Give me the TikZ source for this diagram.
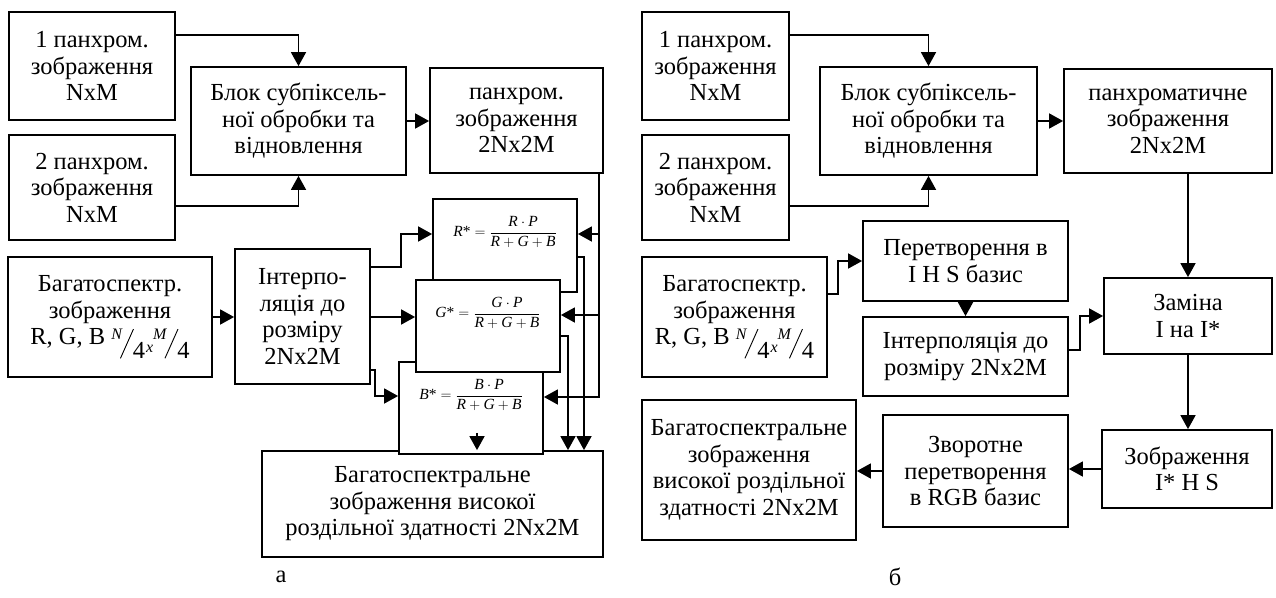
\documentclass[tikz,border=0pt]{standalone}
\usepackage{fontspec}
\setmainfont{Liberation Serif}
\usepackage{graphicx}
\usetikzlibrary{arrows.meta,calc}
\newcommand\slfr[2]{%
 \raisebox{5pt}{\fontsize{16}{16}\selectfont\itshape #1}%
 \kern-2pt\raisebox{-14pt}{\rotatebox{66}{\rule{32pt}{0.9pt}}}%
 \kern-1pt\raisebox{-14pt}{#2}}
\newcommand\smx{\kern1pt\raisebox{-8pt}{\fontsize{16}{16}\selectfont\itshape x}}
\tikzset{
 box/.style={draw, fill=white, line width=1.8pt, align=center, inner sep=0pt,
   font=\fontsize{24.5}{26.5}\selectfont},
 fml/.style={anchor=center, yshift=-34pt, inner sep=0pt, font=\fontsize{15.5}{18}\selectfont},
 arr/.style={line width=1.7pt, -{Triangle[length=14pt,width=15pt]}},
 captxt/.style={font=\fontsize{24.5}{26.5}\selectfont, inner sep=0pt},
}
\begin{document}
\begin{tikzpicture}[x=1pt,y=-1pt]
\useasboundingbox[fill=white] (0,0) rectangle (1276,597);

% ---------------- left diagram ----------------
\node[box, minimum width=166pt, minimum height=108pt] (L1) at (92,66) {1 панхром.\\зображення\\NxM};
\node[box, minimum width=166pt, minimum height=105pt] (L2) at (92,187.5) {2 панхром.\\зображення\\NxM};
\node[box, minimum width=215pt, minimum height=108pt] (LB) at (298.5,121) {Блок субпіксель-\\ної обробки та\\відновлення};
\node[box, minimum width=173pt, minimum height=105pt] (LP) at (516.5,120.5) {панхром.\\зображення\\2Nx2M};
\node[box, minimum width=204pt, minimum height=120pt] (LM) at (110,317) {Багатоспектр.\\зображення\\R, G, B~\slfr{N}{4}\smx\slfr{M}{4}};
\node[box, minimum width=135pt, minimum height=135pt] (LI) at (302.5,316.5) {Інтерпо-\\ляція до\\розміру\\2Nx2M};
\node[box, minimum width=341pt, minimum height=106pt] (LO) at (432.5,504) {Багатоспектральне\\зображення високої\\роздільної здатності 2Nx2M};
\node[box, minimum width=144pt, minimum height=92pt,
  label={[fml]north:$\mathit{B}\hbox{*}=\displaystyle\frac{\mathit{B}\cdot\mathit{P}}{\mathit{R}+\mathit{G}+\mathit{B}}$}] (LBs) at (471,408) {};
\node[box, minimum width=144pt, minimum height=93pt,
  label={[fml]north:$\mathit{R}\hbox{*}=\displaystyle\frac{\mathit{R}\cdot\mathit{P}}{\mathit{R}+\mathit{G}+\mathit{B}}$}] (LR) at (505,245.5) {};
\node[box, minimum width=144pt, minimum height=92pt,
  label={[fml]north:$\mathit{G}\hbox{*}=\displaystyle\frac{\mathit{G}\cdot\mathit{P}}{\mathit{R}+\mathit{G}+\mathit{B}}$}] (LG) at (488,326) {};

\draw[arr] (L1.east |- 0,35) -| (LB.north);
\draw[arr] (L2.east |- 0,206) -| (LB.south);
\draw[arr] (LB.east) -- (LB.east -| LP.west);
\draw[arr] (LM.east) -- (LM.east -| LI.west);
\draw[arr] (LI.east |- 0,267) -- (401,267) -- (401,234) -- (LR.west |- 0,234);
\draw[arr] (LI.east |- 0,317) -- (LG.west |- 0,317);
\draw[arr] (LI.east |- 0,370) -- (375,370) -- (375,396) -- (LBs.west |- 0,396);
\draw[arr] (LP.south -| 599,0) -- (599,397) -- (LBs.east |- 0,397);
\draw[arr] (599,234) -- (LR.east |- 0,234);
\draw[arr] (599,315) -- (LG.east |- 0,315);
\draw[arr] (LR.east |- 0,257) -- (584,257) -- (584,0 |- LO.north);
\draw[arr] (LG.east |- 0,336) -- (568,336) -- (568,0 |- LO.north);
\draw[arr] ([xshift=6pt,yshift=22pt]LBs.south) -- ([xshift=6pt]LBs.south |- LO.north);

\node[captxt] (la) at (281,577) {а};

% ---------------- right diagram ----------------
\node[box, minimum width=147pt, minimum height=108pt] (R1) at (715.5,66) {1 панхром.\\зображення\\NxM};
\node[box, minimum width=147pt, minimum height=105pt] (R2) at (715.5,187.5) {2 панхром.\\зображення\\NxM};
\node[box, minimum width=217pt, minimum height=108pt] (RB) at (928.5,121) {Блок субпіксель-\\ної обробки та\\відновлення};
\node[box, minimum width=208pt, minimum height=104pt] (RP) at (1168,121) {панхроматичне\\зображення\\2Nx2M};
\node[box, minimum width=185pt, minimum height=120pt] (RM) at (734.5,317) {Багатоспектр.\\зображення\\R, G, B~\slfr{N}{4}\smx\slfr{M}{4}};
\node[box, minimum width=205pt, minimum height=80pt] (RT) at (965.5,261) {Перетворення в\\I H S базис};
\node[box, minimum width=205pt, minimum height=79pt] (RI) at (965.5,356.5) {Інтерполяція до\\розміру 2Nx2M};
\node[box, minimum width=168pt, minimum height=76pt] (RZ) at (1188,316) {Заміна\\I на I*};
\node[box, minimum width=170pt, minimum height=78pt] (RS) at (1187,469) {Зображення\\I* H S};
\node[box, minimum width=185pt, minimum height=112pt] (RV) at (975.5,471) {Зворотне\\перетворення\\в RGB базис};
\node[box, minimum width=214pt, minimum height=140pt] (RO) at (749,470) {Багатоспектральне\\зображення\\високої роздільної\\здатності 2Nx2M};

\draw[arr] (R1.east |- 0,35) -| (RB.north);
\draw[arr] (R2.east |- 0,206) -| (RB.south);
\draw[arr] (RB.east) -- (RB.east -| RP.west);
\draw[arr] (RZ.north |- RP.south) -- (RZ.north);
\draw[arr] (RM.east |- 0,294) -- (838,294) |- (RT.west);
\draw[arr] (RT.south) -- (RT.south |- RI.north);
\draw[arr] (RI.east |- 0,350) -- (1080,350) |- (RZ.west);
\draw[arr] (RZ.south) -- (RZ.south |- RS.north);
\draw[arr] (RS.west) -- (RS.west -| RV.east);
\draw[arr] (RV.west) -- (RV.west -| RO.east);

\node[captxt] (lb) at (895,577) {б};
\end{tikzpicture}
\end{document}
